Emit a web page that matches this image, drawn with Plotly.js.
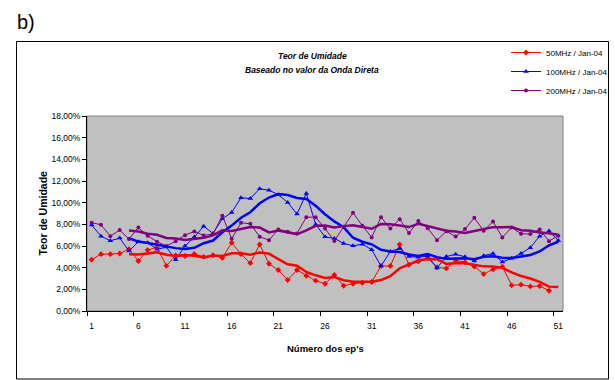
<!DOCTYPE html>
<html>
<head>
<meta charset="utf-8">
<script src="https://cdn.plot.ly/plotly-3.0.1.min.js"></script>
<style>html,body{margin:0;padding:0;background:#fff;}#chart{width:615px;height:380px;}</style>
</head>
<body>
<div id="chart"></div>
<script>
// ---- data (percent values) ----
const episodes = Array.from({length: 51}, (_, i) => i + 1);
const labelTicks = [1, 6, 11, 16, 21, 26, 31, 36, 41, 46, 51];
const boundaryTicks = [0.5, 5.5, 10.5, 15.5, 20.5, 25.5, 30.5, 35.5, 40.5, 45.5, 50.5];
const yTickVals = [0, 2, 4, 6, 8, 10, 12, 14, 16, 18];
const yTickText = ["0,00%", "2,00%", "4,00%", "6,00%", "8,00%", "10,00%", "12,00%", "14,00%", "16,00%", "18,00%"];
const seriesNames = ["50MHz / Jan-04", "100MHz / Jan-04", "200MHz / Jan-04"];

const mhz50 = [4.73, 5.25, 5.25, 5.31, 5.70, 4.62, 5.62, 5.87, 4.17, 5.13,
  5.08, 5.27, 5.00, 5.15, 4.90, 6.30, 5.25, 4.42, 6.15, 4.36,
  3.78, 2.86, 3.78, 3.25, 2.80, 2.52, 3.32, 2.33, 2.52, 2.61,
  2.68, 4.15, 4.15, 6.15, 4.27, 4.58, 4.88, 4.04, 3.93, 4.67,
  4.50, 4.09, 3.41, 3.84, 4.09, 2.37, 2.43, 2.27, 2.31, 1.87, null];
const mhz100 = [7.93, 6.91, 6.48, 6.73, 5.53, 6.39, 6.30, 5.70, 5.90, 4.73,
  6.00, 6.82, 7.82, 7.16, 8.51, 9.09, 10.46, 10.38, 11.28, 11.15,
  10.73, 10.02, 8.95, 10.85, 7.99, 6.85, 6.70, 6.24, 6.02, 6.17,
  5.66, 4.15, 5.50, 5.78, 5.03, 4.96, 5.07, 3.97, 5.03, 5.23,
  5.00, 4.62, 5.11, 5.31, 4.52, 4.87, 5.31, 5.85, 6.91, 7.38, 6.50];
const mhz200 = [8.15, 7.96, 6.91, 7.47, 6.64, 7.70, 6.95, 6.40, 5.99, 6.45,
  7.00, 7.34, 6.98, 7.10, 8.80, 6.67, 8.14, 8.05, 6.85, 6.54,
  7.53, 7.31, 7.16, 8.66, 8.66, 7.62, 6.46, 7.77, 9.06, 7.88,
  6.79, 8.66, 7.61, 8.48, 7.19, 8.30, 7.64, 6.54, 7.36, 6.88,
  7.56, 8.60, 7.40, 8.26, 6.79, 7.71, 7.13, 7.10, 7.53, 6.45, 6.95];

const colors = ["#FF0000", "#0000FF", "#800080"];
const symbols = ["diamond", "triangle-up", "circle"];
const markerSizes = [4.5, 5, 4];
const seriesData = [mhz50, mhz100, mhz200];

// 5-period moving-average trendline (as the spreadsheet's trendline)
function movingAverage(arr, period) {
  return arr.map((v, i) => {
    if (i < period - 1) return null;
    const w = arr.slice(i - period + 1, i + 1).filter(x => x !== null);
    return w.length ? w.reduce((a, b) => a + b, 0) / w.length : null;
  });
}

const FONT = "Liberation Sans, Arial, sans-serif";
const traces = [];
seriesData.forEach((d, k) => {
  traces.push({
    x: episodes, y: d, type: "scatter", mode: "lines+markers",
    name: seriesNames[k],
    line: {color: colors[k], width: 1},
    marker: {color: colors[k], symbol: symbols[k], size: markerSizes[k]},
    xaxis: "x", yaxis: "y"
  });
});
seriesData.forEach((d, k) => {
  traces.push({
    x: episodes, y: movingAverage(d, 5), type: "scatter", mode: "lines",
    showlegend: false, hoverinfo: "skip",
    line: {color: colors[k], width: 2.5},
    xaxis: "x2", yaxis: "y"
  });
});

// pixel helpers for layout placement
const L = 87, R = 52, T = 116, B = 69, W = 615, H = 380;
const pw = W - L - R, ph = H - T - B;
const px = x => (x - L) / pw;
const py = y => (H - B - y) / ph;

const layout = {
  width: W, height: H,
  margin: {l: L, r: R, t: T, b: B, pad: 0, autoexpand: false},
  paper_bgcolor: "#FFFFFF",
  plot_bgcolor: "#C0C0C0",
  font: {family: FONT, color: "#000000", size: 9},
  showlegend: true,
  legend: {
    x: px(506), y: py(38), xanchor: "left", yanchor: "top",
    bgcolor: "rgba(0,0,0,0)", borderwidth: 0,
    font: {family: FONT, size: 8, color: "#000000"},
    tracegroupgap: 0
  },
  xaxis: {
    type: "linear", range: [0.5, 51.5], tickmode: "array", tickvals: boundaryTicks,
    ticks: "outside", ticklen: 4, tickwidth: 1, tickcolor: "#000000",
    showticklabels: false, showgrid: false, zeroline: false,
    showline: true, linecolor: "#000000", linewidth: 1
  },
  xaxis2: {
    type: "linear", range: [0.5, 51.5], overlaying: "x", anchor: "y", side: "bottom",
    tickmode: "array", tickvals: labelTicks, ticktext: labelTicks.map(String),
    ticks: "", ticklabelstandoff: 8, showgrid: false, zeroline: false, showline: false,
    tickfont: {family: FONT, size: 8.5, color: "#000000"}
  },
  yaxis: {
    range: [0, 18], tickmode: "array", tickvals: yTickVals, ticktext: yTickText,
    ticks: "outside", ticklen: 4, tickwidth: 1, tickcolor: "#000000",
    showgrid: false, zeroline: false,
    showline: true, linecolor: "#000000", linewidth: 1,
    tickfont: {family: FONT, size: 8.5, color: "#000000"}
  },
  shapes: [
    {type: "rect", xref: "paper", yref: "paper", x0: 0, x1: 1, y0: 0, y1: 1,
     line: {color: "#808080", width: 1}, layer: "below"},
    {type: "rect", xref: "paper", yref: "paper", x0: px(16.5), x1: px(608.5), y0: py(379), y1: py(41.5),
     line: {color: "#000000", width: 1}, fillcolor: "rgba(0,0,0,0)"}
  ],
  annotations: [
    {text: "b)", xref: "paper", yref: "paper", x: px(15), y: py(22), xanchor: "left", yanchor: "middle",
     showarrow: false, font: {family: FONT, size: 20, color: "#000000"}},
    {text: "<b><i>Teor de Umidade</i></b>", xref: "paper", yref: "paper", x: px(312), y: py(56),
     xanchor: "center", yanchor: "middle", showarrow: false, font: {family: FONT, size: 8.5}},
    {text: "<b><i>Baseado no valor da Onda Direta</i></b>", xref: "paper", yref: "paper", x: px(312), y: py(70),
     xanchor: "center", yanchor: "middle", showarrow: false, font: {family: FONT, size: 8.5}},
    {text: "<b>Teor de Umidade</b>", xref: "paper", yref: "paper", x: px(42), y: 0.5, textangle: -90,
     xanchor: "center", yanchor: "middle", showarrow: false, font: {family: FONT, size: 10.5}},
    {text: "<b>Número dos ep's</b>", xref: "paper", yref: "paper", x: px(325), y: py(348),
     xanchor: "center", yanchor: "middle", showarrow: false, font: {family: FONT, size: 9.5}}
  ]
};

Plotly.newPlot("chart", traces, layout, {staticPlot: true, displayModeBar: false});
</script>
</body>
</html>
